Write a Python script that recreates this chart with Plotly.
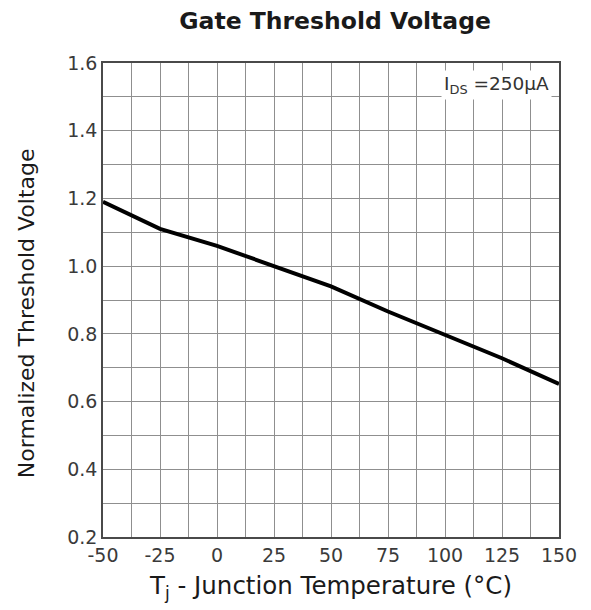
import plotly.graph_objects as go

# Normalized gate threshold voltage vs junction temperature
temperature_c = [-50, -25, 0, 25, 50, 75, 100, 125, 150]
normalized_vth = [1.19, 1.11, 1.06, 1.0, 0.94, 0.866, 0.797, 0.728, 0.652]

x_ticks = [-50, -25, 0, 25, 50, 75, 100, 125, 150]
y_ticks = [0.2, 0.4, 0.6, 0.8, 1.0, 1.2, 1.4, 1.6]

FONT = "DejaVu Sans, Verdana, sans-serif"
GRID = "#8f8f8f"

fig = go.Figure()
fig.add_trace(go.Scatter(
    x=temperature_c, y=normalized_vth, mode="lines",
    line=dict(color="black", width=4),
    showlegend=False, hoverinfo="skip",
))

fig.update_layout(
    width=591, height=610,
    margin=dict(l=103, r=32, t=63, b=73),
    paper_bgcolor="white", plot_bgcolor="white",
    font=dict(family=FONT, color="#3a3a3a"),
    title=dict(text="<b>Gate Threshold Voltage</b>", x=0.509, xref="paper",
               xanchor="center", y=0.966, yanchor="middle",
               font=dict(size=23.5, color="#1a1a1a", family=FONT)),
    xaxis=dict(
        range=[-50, 150], tickvals=x_ticks, ticktext=[str(v) for v in x_ticks],
        showgrid=True, gridcolor=GRID, gridwidth=1,
        minor=dict(dtick=12.5, tick0=-50, showgrid=True, gridcolor=GRID, gridwidth=1),
        showline=True, linecolor="#4a4a4a", linewidth=1.5, mirror=True,
        ticks="", tickfont=dict(size=19, color="#3a3a3a"),
        title=dict(text="T<sub>j</sub> - Junction Temperature (°C)",
                   font=dict(size=24.5, color="#1a1a1a"), standoff=12),
        zeroline=False,
    ),
    yaxis=dict(
        range=[0.2, 1.6], tickvals=y_ticks, ticktext=[f"{v:.1f}" for v in y_ticks],
        showgrid=True, gridcolor=GRID, gridwidth=1,
        minor=dict(dtick=0.1, tick0=0.2, showgrid=True, gridcolor=GRID, gridwidth=1),
        showline=True, linecolor="#4a4a4a", linewidth=1.5, mirror=True,
        ticks="", tickfont=dict(size=19, color="#3a3a3a"),
        zeroline=False,
    ),
)

# Vertical axis label, placed as a rotated annotation
fig.add_annotation(
    x=-0.168, y=0.473, xref="paper", yref="paper", xanchor="center", yanchor="middle",
    text="Normalized Threshold Voltage", textangle=-90, showarrow=False,
    font=dict(size=22, color="#1a1a1a", family=FONT),
)

fig.add_annotation(
    x=0.985, y=0.985, xref="paper", yref="paper", xanchor="right", yanchor="top",
    text="I<sub>DS</sub> =250µA", showarrow=False,
    font=dict(size=18.5, color="#333333", family=FONT),
    bgcolor="white", borderpad=2,
)

fig.write_html("out.html")
